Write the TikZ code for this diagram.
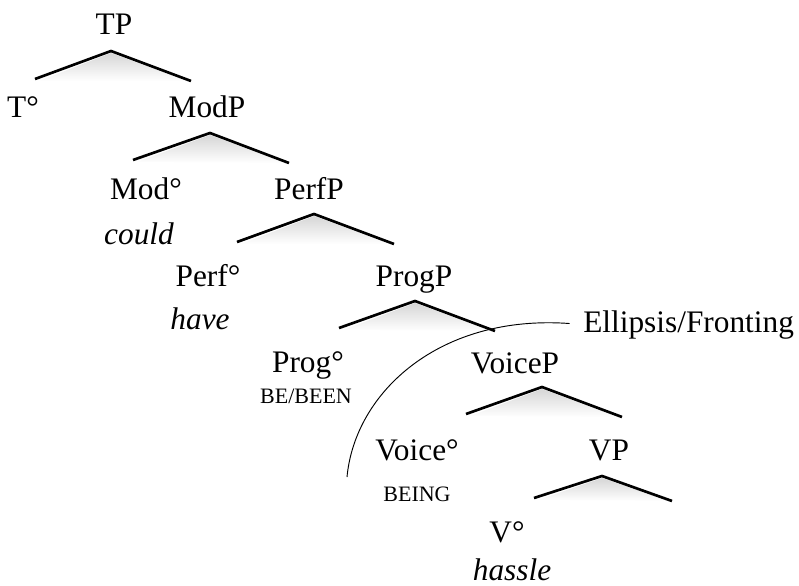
\documentclass[tikz,border=0pt]{standalone}
\usepackage{fontspec}
\setmainfont{Liberation Serif}
\usetikzlibrary{fadings}
\tikzset{
  lbl/.style={anchor=base, inner sep=0pt, font=\fontsize{23.5}{28}\selectfont},
  gloss/.style={lbl, font=\fontsize{23.5}{28}\selectfont\itshape},
  feat/.style={anchor=base, inner sep=0pt, font=\fontsize{16.5}{20}\selectfont},
  roof/.style={line width=2pt, line join=miter},
  roofshade/.style={fill=black!16, path fading=south, draw=none},
  cut/.style={line width=0.7pt},
}
\begin{document}
\begin{tikzpicture}[x=0.75pt,y=-0.75pt]
    \useasboundingbox (0,0) rectangle (799,585);

    \node [lbl] (tp) at (114,35) {TP};
    \node [lbl] (t0) at (23,117) {T°};
    \node [lbl] (modp) at (207,117) {ModP};
    \node [lbl] (mod0) at (146,199) {Mod°};
    \node [gloss] (could) at (139,244) {could};
    \node [lbl] (perfp) at (309,199) {PerfP};
    \node [lbl] (perf0) at (208,286) {Perf°};
    \node [gloss] (have) at (200,329) {have};
    \node [lbl] (progp) at (414,286) {ProgP};
    \node [lbl] (prog0) at (308,372) {Prog°};
    \node [feat] (been) at (306,403) {BE/BEEN};
    \node [lbl] (voicep) at (515,373) {VoiceP};
    \node [lbl] (voice0) at (417,460) {Voice°};
    \node [feat] (being) at (417,501) {BEING};
    \node [lbl] (vp) at (609,460) {VP};
    \node [lbl] (v0) at (507,542) {V°};
    \node [gloss] (hassle) at (512,580) {hassle};
    \node [lbl, anchor=base west] (ell) at (583,332) {Ellipsis/Fronting};

    % roofs
    \coordinate (tp-a) at (111,51);    \coordinate (tp-l) at (35,79);    \coordinate (tp-r) at (191,81);
    \coordinate (modp-a) at (210,133); \coordinate (modp-l) at (133,160); \coordinate (modp-r) at (289,163);
    \coordinate (perfp-a) at (314,214); \coordinate (perfp-l) at (237,242); \coordinate (perfp-r) at (394,244);
    \coordinate (progp-a) at (415,301); \coordinate (progp-l) at (339,328); \coordinate (progp-r) at (495,331);
    \coordinate (voicep-a) at (542,387); \coordinate (voicep-l) at (466,414); \coordinate (voicep-r) at (622,417);
    \coordinate (vp-a) at (602,476);   \coordinate (vp-l) at (534,498);  \coordinate (vp-r) at (672,501);

    \foreach \r in {tp,modp,perfp,progp,voicep,vp} {
      \fill[roofshade] ([yshift=-1.5pt]\r-a) -- ([shift={(4,2)}]\r-l) -- ([shift={(-4,0)}]\r-r) -- cycle;
      \draw[roof] (\r-l) -- (\r-a) -- (\r-r);
    }

    % ellipsis boundary
    \coordinate (cut-end) at (347,477);
    \draw[cut, shorten <=10pt] (ell.west) .. controls (440,314) and (355,392) .. (cut-end);

\end{tikzpicture}
\end{document}
